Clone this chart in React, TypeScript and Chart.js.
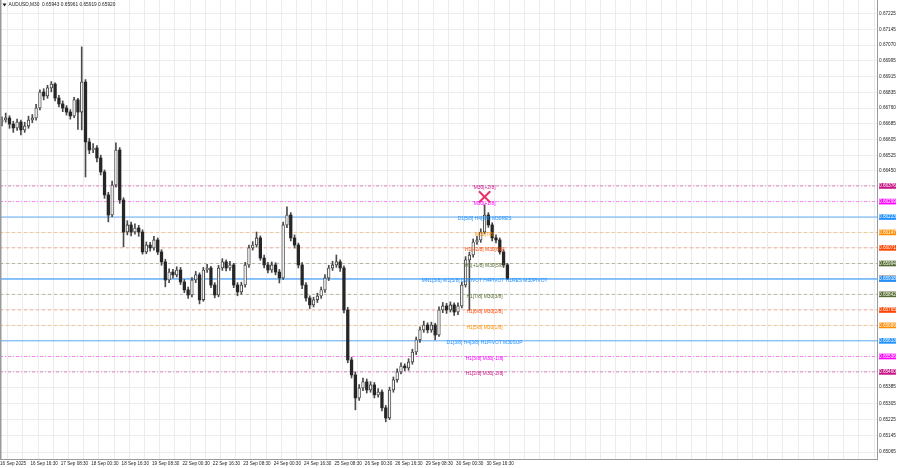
import React, { useEffect, useRef } from 'react';
import { Chart, registerables } from 'chart.js';

Chart.register(...registerables);

// ---- data: AUDUSD M30, aggregated into 2-hour candles (4 M30 bars each) ----
const openPrices = [
  0.66691, 0.66701, 0.66711, 0.66681, 0.66662, 0.66691, 0.66652, 0.66671, 0.66701, 0.66711,
  0.66760, 0.66839, 0.66819, 0.66859, 0.66878, 0.66809, 0.66780, 0.66760, 0.66740, 0.66721,
  0.66800, 0.66740, 0.66888, 0.66593, 0.66553, 0.66563, 0.66514, 0.66445, 0.66332, 0.66233,
  0.66381, 0.66553, 0.66307, 0.66149, 0.66184, 0.66149, 0.66169, 0.66149, 0.66051, 0.66085,
  0.66071, 0.66110, 0.66051, 0.66002, 0.65913, 0.65952, 0.65938, 0.65962, 0.65903, 0.65864,
  0.65839, 0.65913, 0.65938, 0.65815, 0.65962, 0.65972, 0.65888, 0.65839, 0.65972, 0.66002,
  0.65972, 0.65987, 0.65888, 0.65854, 0.65888, 0.65987, 0.66071, 0.66085, 0.66120, 0.66021,
  0.65987, 0.65962, 0.65987, 0.65952, 0.65923, 0.66184, 0.66233, 0.66120, 0.66085, 0.65987,
  0.65888, 0.65824, 0.65790, 0.65815, 0.65834, 0.65864, 0.65923, 0.65972, 0.65987, 0.66002,
  0.65972, 0.65765, 0.65519, 0.65445, 0.65332, 0.65381, 0.65411, 0.65371, 0.65396, 0.65347,
  0.65361, 0.65283, 0.65233, 0.65371, 0.65421, 0.65460, 0.65489, 0.65480, 0.65509, 0.65558,
  0.65618, 0.65667, 0.65691, 0.65667, 0.65691, 0.65642, 0.65765, 0.65785, 0.65765, 0.65790,
  0.65755, 0.65785, 0.65888, 0.66012, 0.66036, 0.66100, 0.66110, 0.66149, 0.66233, 0.66184,
  0.66120, 0.66110, 0.66051, 0.65987,
];
const highPrices = [
  0.66716, 0.66735, 0.66722, 0.66695, 0.66706, 0.66700, 0.66690, 0.66720, 0.66728, 0.66778,
  0.66850, 0.66855, 0.66872, 0.66890, 0.66884, 0.66822, 0.66795, 0.66772, 0.66752, 0.66812,
  0.66808, 0.67061, 0.66900, 0.66610, 0.66585, 0.66575, 0.66528, 0.66455, 0.66345, 0.66400,
  0.66588, 0.66565, 0.66318, 0.66205, 0.66198, 0.66190, 0.66182, 0.66160, 0.66100, 0.66098,
  0.66128, 0.66120, 0.66062, 0.66015, 0.65968, 0.65965, 0.65978, 0.65975, 0.65915, 0.65878,
  0.65925, 0.65955, 0.65948, 0.65975, 0.65990, 0.65980, 0.65900, 0.65985, 0.66018, 0.66012,
  0.66005, 0.65995, 0.65900, 0.65902, 0.66000, 0.66085, 0.66102, 0.66149, 0.66130, 0.66035,
  0.66000, 0.66002, 0.65998, 0.65965, 0.66198, 0.66273, 0.66245, 0.66135, 0.66095, 0.65998,
  0.65900, 0.65835, 0.65828, 0.65848, 0.65878, 0.65940, 0.65985, 0.66005, 0.66036, 0.66012,
  0.65982, 0.65778, 0.65532, 0.65460, 0.65398, 0.65430, 0.65425, 0.65412, 0.65408, 0.65378,
  0.65372, 0.65295, 0.65385, 0.65435, 0.65475, 0.65505, 0.65500, 0.65525, 0.65572, 0.65632,
  0.65682, 0.65710, 0.65702, 0.65705, 0.65700, 0.65780, 0.65802, 0.65798, 0.65805, 0.65800,
  0.65800, 0.65902, 0.66028, 0.66050, 0.66115, 0.66128, 0.66165, 0.66283, 0.66245, 0.66195,
  0.66135, 0.66120, 0.66062, 0.65995,
];
const lowPrices = [
  0.66672, 0.66690, 0.66660, 0.66640, 0.66650, 0.66628, 0.66640, 0.66660, 0.66688, 0.66700,
  0.66750, 0.66800, 0.66808, 0.66840, 0.66795, 0.66765, 0.66742, 0.66725, 0.66705, 0.66712,
  0.66655, 0.66652, 0.66420, 0.66535, 0.66540, 0.66495, 0.66430, 0.66315, 0.66199, 0.66225,
  0.66370, 0.66290, 0.66076, 0.66135, 0.66130, 0.66138, 0.66128, 0.66040, 0.66042, 0.66055,
  0.66060, 0.66038, 0.65985, 0.65879, 0.65900, 0.65922, 0.65928, 0.65890, 0.65850, 0.65822,
  0.65830, 0.65900, 0.65795, 0.65808, 0.65950, 0.65875, 0.65825, 0.65830, 0.65960, 0.65958,
  0.65960, 0.65875, 0.65835, 0.65842, 0.65878, 0.65975, 0.66060, 0.66075, 0.66010, 0.65972,
  0.65948, 0.65950, 0.65938, 0.65898, 0.65915, 0.66170, 0.66105, 0.66070, 0.65972, 0.65870,
  0.65808, 0.65772, 0.65780, 0.65802, 0.65822, 0.65852, 0.65910, 0.65960, 0.65975, 0.65955,
  0.65750, 0.65505, 0.65430, 0.65273, 0.65320, 0.65368, 0.65356, 0.65360, 0.65332, 0.65335,
  0.65268, 0.65214, 0.65225, 0.65360, 0.65410, 0.65450, 0.65465, 0.65468, 0.65498, 0.65545,
  0.65605, 0.65655, 0.65652, 0.65655, 0.65618, 0.65635, 0.65752, 0.65748, 0.65755, 0.65738,
  0.65742, 0.65775, 0.65878, 0.65765, 0.66025, 0.66088, 0.66098, 0.66140, 0.66172, 0.66105,
  0.66095, 0.66040, 0.65975, 0.65915,
];
const closePrices = [
  0.66701, 0.66711, 0.66681, 0.66662, 0.66691, 0.66652, 0.66671, 0.66701, 0.66711, 0.66760,
  0.66839, 0.66819, 0.66859, 0.66878, 0.66809, 0.66780, 0.66760, 0.66740, 0.66721, 0.66800,
  0.66740, 0.66888, 0.66593, 0.66553, 0.66563, 0.66514, 0.66445, 0.66332, 0.66233, 0.66381,
  0.66553, 0.66307, 0.66149, 0.66184, 0.66149, 0.66169, 0.66149, 0.66051, 0.66085, 0.66071,
  0.66110, 0.66051, 0.66002, 0.65913, 0.65952, 0.65938, 0.65962, 0.65903, 0.65864, 0.65839,
  0.65913, 0.65938, 0.65815, 0.65962, 0.65972, 0.65888, 0.65839, 0.65972, 0.66002, 0.65972,
  0.65987, 0.65888, 0.65854, 0.65888, 0.65987, 0.66071, 0.66085, 0.66120, 0.66021, 0.65987,
  0.65962, 0.65987, 0.65952, 0.65923, 0.66184, 0.66233, 0.66120, 0.66085, 0.65987, 0.65888,
  0.65824, 0.65790, 0.65815, 0.65834, 0.65864, 0.65923, 0.65972, 0.65987, 0.66002, 0.65972,
  0.65765, 0.65519, 0.65445, 0.65332, 0.65381, 0.65411, 0.65371, 0.65396, 0.65347, 0.65361,
  0.65283, 0.65233, 0.65371, 0.65421, 0.65460, 0.65489, 0.65480, 0.65509, 0.65558, 0.65618,
  0.65667, 0.65691, 0.65667, 0.65691, 0.65642, 0.65765, 0.65785, 0.65765, 0.65790, 0.65755,
  0.65785, 0.65888, 0.66012, 0.66036, 0.66100, 0.66110, 0.66149, 0.66233, 0.66184, 0.66120,
  0.66110, 0.66051, 0.65987, 0.65920,
];

const BARS_PER_CANDLE = 4; // M30 bars per drawn candle
const BARS_PER_LABEL = 32; // M30 bars between time labels
const VISIBLE_BARS = 923; // width of the window in M30 bars (incl. right shift)

const timeLabels = [
  '16 Sep 2025', '16 Sep 16:30', '17 Sep 08:30', '18 Sep 00:30', '18 Sep 16:30',
  '19 Sep 08:30', '22 Sep 00:30', '22 Sep 16:30', '23 Sep 08:30', '24 Sep 00:30',
  '24 Sep 16:30', '25 Sep 08:30', '26 Sep 00:30', '26 Sep 16:30', '29 Sep 08:30',
  '30 Sep 00:30', '30 Sep 16:30',
];

const priceAxisTicks = [
  0.67225, 0.67145, 0.67070, 0.66995, 0.66915, 0.66835, 0.66760, 0.66685, 0.66605, 0.66525,
  0.66450, 0.65385, 0.65305, 0.65225, 0.65145, 0.65065,
];
const PRICE_MIN = 0.65031;
const PRICE_MAX = 0.67292;

const levelValues = [
  0.66376, 0.66299, 0.66223, 0.66147, 0.66071, 0.65994, 0.65918, 0.65842, 0.65765, 0.65689,
  0.65613, 0.65536, 0.65460,
];
const levelLabels = [
  'M30[+2/8]',
  'M30[+1/8]',
  'D1[5/8] H4[8/8] M30RES',
  'M30[7/8]',
  'H1[+2/8] M30[6/8]',
  'H1[+1/8] M30[5/8]',
  'MN1[3/8] W1[5/8] D1PIVOT H4PIVOT H1RES M30PIVOT',
  'H1[7/8] M30[3/8]',
  'H1[6/8] M30[2/8]',
  'H1[5/8] M30[1/8]',
  'D1[3/8] H4[3/8] H1PIVOT M30SUP',
  'H1[3/8] M30[-1/8]',
  'H1[2/8] M30[-2/8]',
];
const levelColors = [
  '#C71585', '#FF00FF', '#1E90FF', '#FF8C00', '#FF4500', '#556B2F', '#1E90FF', '#556B2F',
  '#FF4500', '#FF8C00', '#1E90FF', '#FF00FF', '#C71585',
];
const levelLineColors = [
  'rgba(199,21,133,0.5)', 'rgba(255,0,255,0.45)', 'rgba(30,144,255,0.45)', 'rgba(255,140,0,0.4)',
  'rgba(255,69,0,0.4)', 'rgba(85,107,47,0.4)', 'rgba(30,144,255,0.5)', 'rgba(85,107,47,0.4)',
  'rgba(255,69,0,0.4)', 'rgba(255,140,0,0.4)', 'rgba(30,144,255,0.45)', 'rgba(255,0,255,0.45)',
  'rgba(199,21,133,0.5)',
];
const levelSolid = [false, false, true, false, false, false, true, false, false, false, true, false, false];

const lastPrice = 0.6592;
const titleText = 'AUDUSD,M30  0.65943 0.65961 0.65919 0.65920';
const labelAnchorCandle = 127;
const markerCandle = 127;
const markerPrice = 0.66322;

const FONT = '"Liberation Sans", Arial, sans-serif';

type YTick = { value: number; label: string; bg: string | null; text: string; pad: any };

function buildYTicks(): YTick[] {
  const list: YTick[] = priceAxisTicks.map((v) => ({
    value: v,
    label: v.toFixed(5),
    bg: null,
    text: '#1a1a1a',
    pad: 0,
  }));
  levelValues.forEach((v, i) => {
    if (i === 6) {
      list.push({
        value: lastPrice,
        label: lastPrice.toFixed(5),
        bg: '#000000',
        text: '#ffffff',
        pad: { top: 5.5, bottom: 0, left: 1, right: 1.5 },
      });
    }
    list.push({
      value: v,
      label: v.toFixed(5),
      bg: levelColors[i],
      text: '#ffffff',
      pad: { top: 1.6, bottom: 1.4, left: 1, right: 1.5 },
    });
  });
  return list;
}

export default function App() {
  const canvasRef = useRef<HTMLCanvasElement | null>(null);

  useEffect(() => {
    const canvas = canvasRef.current;
    if (!canvas) return;
    const yTicks = buildYTicks();
    const candleBar = (i: number) => i * BARS_PER_CANDLE + BARS_PER_CANDLE / 2;

    const bodies = openPrices.map((o, i) => ({ x: candleBar(i), y: [o, closePrices[i]] }));
    const wicks = lowPrices.map((l, i) => ({ x: candleBar(i), y: [l, highPrices[i]] }));
    const bull = openPrices.map((o, i) => closePrices[i] >= o);

    const levelDatasets = levelValues.map((v, i) => ({
      type: 'line' as const,
      data: [
        { x: 0, y: v },
        { x: VISIBLE_BARS, y: v },
      ],
      borderColor: levelLineColors[i],
      borderWidth: levelSolid[i] ? (i === 6 ? 2 : 1.5) : 1,
      borderDash: levelSolid[i] ? [] : i === 0 || i === 1 || i === 11 || i === 12 ? [3, 2, 1, 2] : [3, 3],
      pointRadius: 0,
      order: 5,
    }));

    const overlay = {
      id: 'overlay',
      afterDatasetsDraw(chart: any) {
        const { ctx, scales } = chart;
        const xs = scales.x;
        const ys = scales.y;
        ctx.save();
        ctx.font = `4.9px ${FONT}`;
        ctx.textAlign = 'center';
        ctx.textBaseline = 'middle';
        const lx = xs.getPixelForValue(candleBar(labelAnchorCandle));
        levelValues.forEach((v, i) => {
          ctx.fillStyle = levelColors[i];
          ctx.fillText(levelLabels[i], lx, ys.getPixelForValue(v) + 2);
        });
        ctx.restore();
      },
      afterDraw(chart: any) {
        const { ctx, chartArea } = chart;
        ctx.save();
        // left frame
        ctx.strokeStyle = '#9a9a9a';
        ctx.lineWidth = 1.5;
        ctx.beginPath();
        ctx.moveTo(0.75, 0);
        ctx.lineTo(0.75, chartArea.bottom);
        ctx.stroke();
        // title
        ctx.fillStyle = '#1a1a1a';
        ctx.beginPath();
        ctx.moveTo(2.5, 3.5);
        ctx.lineTo(6.5, 3.5);
        ctx.lineTo(4.5, 6.5);
        ctx.closePath();
        ctx.fill();
        ctx.font = `4.8px ${FONT}`;
        ctx.textAlign = 'left';
        ctx.textBaseline = 'middle';
        ctx.fillText(titleText, 8.5, 5);
        ctx.restore();
      },
    };

    const chart = new Chart(canvas, {
      type: 'bar',
      data: {
        datasets: [
          {
            type: 'scatter' as const,
            data: [{ x: candleBar(markerCandle), y: markerPrice }],
            pointStyle: 'crossRot',
            pointRadius: 8,
            borderColor: '#e8336a',
            backgroundColor: '#e8336a',
            borderWidth: 2,
            order: 0,
          } as any,
          {
            type: 'bar' as const,
            data: bodies as any,
            barThickness: 2.6,
            grouped: false,
            minBarLength: 1,
            backgroundColor: bull.map((b) => (b ? '#f4f4f4' : '#262626')),
            borderColor: '#262626',
            borderWidth: bull.map((b) => (b ? 0.8 : 0)),
            borderSkipped: false,
            order: 1,
          } as any,
          {
            type: 'bar' as const,
            data: wicks as any,
            barThickness: 1,
            grouped: false,
            backgroundColor: '#4a4a4a',
            borderWidth: 0,
            order: 2,
          } as any,
          ...(levelDatasets as any[]),
        ],
      },
      options: {
        responsive: false,
        animation: false,
        devicePixelRatio: 1,
        events: [],
        layout: { padding: 0, autoPadding: false },
        plugins: { legend: { display: false }, tooltip: { enabled: false }, title: { display: false } },
        scales: {
          x: {
            type: 'linear',
            min: 0,
            max: VISIBLE_BARS,
            offset: false,
            afterBuildTicks: (s: any) => {
              const t: any[] = [];
              for (let b = 0; b <= VISIBLE_BARS; b += BARS_PER_LABEL / 2) t.push({ value: b });
              s.ticks = t;
            },
            afterFit: (s: any) => {
              s.height = 9;
              s.paddingLeft = 0;
              s.paddingRight = 0;
            },
            grid: { color: '#ececec', drawTicks: false, lineWidth: 1 },
            border: { display: true, color: '#9a9a9a', width: 1 },
            ticks: {
              autoSkip: false,
              maxRotation: 0,
              minRotation: 0,
              align: 'start',
              padding: 1.5,
              color: '#222222',
              font: { family: FONT, size: 4.6 },
              callback: (_v: any, i: number) => (i % 2 === 0 ? timeLabels[i / 2] ?? '' : ''),
            },
          },
          y: {
            type: 'linear',
            position: 'right',
            min: PRICE_MIN,
            max: PRICE_MAX,
            afterBuildTicks: (s: any) => {
              s.ticks = yTicks.map((t) => ({ value: t.value }));
            },
            afterFit: (s: any) => {
              s.width = 23;
              s.paddingTop = 0;
              s.paddingBottom = 0;
            },
            grid: { color: '#ececec', drawTicks: false, lineWidth: 1 },
            border: { display: true, color: '#9a9a9a', width: 1 },
            ticks: {
              autoSkip: false,
              padding: 2,
              font: { family: FONT, size: 4.7 },
              callback: (_v: any, i: number) => yTicks[i]?.label ?? '',
              color: (c: any) => yTicks[c.index]?.text ?? '#1a1a1a',
              showLabelBackdrop: (c: any) => !!yTicks[c.index]?.bg,
              backdropColor: (c: any) => yTicks[c.index]?.bg ?? 'transparent',
              backdropPadding: (c: any) => yTicks[c.index]?.pad ?? 0,
            },
          },
        },
      } as any,
      plugins: [overlay],
    });

    return () => chart.destroy();
  }, []);

  return (
    <div style={{ position: 'fixed', left: 0, top: 0, width: 900, height: 468, background: '#ffffff' }}>
      <canvas ref={canvasRef} width={900} height={468} style={{ display: 'block' }} />
    </div>
  );
}
